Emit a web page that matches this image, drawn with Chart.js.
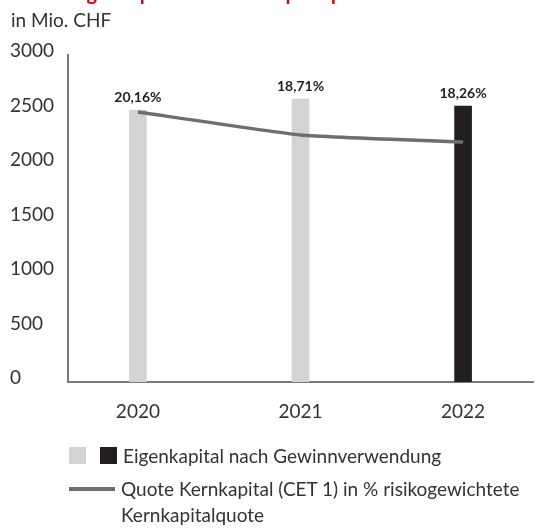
<!DOCTYPE html>
<html lang="de">
<head>
<meta charset="utf-8">
<title>Eigenkapital und Kernkapitalquote</title>
<script src="https://cdn.jsdelivr.net/npm/chart.js@4.4.0/dist/chart.umd.min.js"></script>
<style>
    html, body { margin: 0; padding: 0; background: #fff; }
    body { width: 550px; height: 528px; position: relative; overflow: hidden; font-family: Lato, sans-serif; color: #333; }
    #chartBox { position: absolute; left: 0; top: 0; width: 550px; height: 528px; }
    .txt { position: absolute; white-space: nowrap; font-size: 19px; line-height: 19px; }
    #title { left: 70px; top: -18px; color: #e2001a; font-weight: bold; font-size: 20px; line-height: 20px; }
    #unit { left: 11px; top: 10px; }
    .sq { position: absolute; width: 17px; height: 17px; }
    .ln { position: absolute; height: 4px; background: #6d6e70; }
</style>
</head>
<body>
<div id="chartBox"><canvas id="capitalChart"></canvas></div>
<div class="txt" id="title">Eigenkapital und Kernkapitalquote</div>
<div class="txt" id="unit">in Mio. CHF</div>

<!-- Legende -->
<div class="sq" style="left:69px; top:447px; background:#d1d3d4;"></div>
<div class="sq" style="left:100px; top:447px; background:#231f20;"></div>
<div class="txt" style="left:123px; top:446px;">Eigenkapital nach Gewinnverwendung</div>
<div class="ln" style="left:69px; top:487px; width:46px;"></div>
<div class="txt" style="left:121px; top:479px;">Quote Kernkapital (CET 1) in % risikogewichtete</div>
<div class="txt" style="left:121px; top:505px;">Kernkapitalquote</div>

<script>
const years = ['2020', '2021', '2022'];
const equity = [2495, 2596, 2532];          // Eigenkapital in Mio. CHF
const cet1 = [20.16, 18.71, 18.26];          // Kernkapitalquote in %
const barColors = ['#d1d3d4', '#d1d3d4', '#231f20'];

// Prozentwerte über den Balken
const pctLabels = {
    id: 'pctLabels',
    afterDatasetsDraw(chart) {
        const meta = chart.getDatasetMeta(1);
        const ctx = chart.ctx;
        ctx.save();
        ctx.font = 'bold 14px Lato, sans-serif';
        ctx.fillStyle = '#231f20';
        ctx.textAlign = 'center';
        ctx.textBaseline = 'middle';
        meta.data.forEach((bar, i) => {
            const text = cet1[i].toFixed(2).replace('.', ',') + '%';
            ctx.fillText(text, bar.x, bar.y - 13);
        });
        ctx.restore();
    }
};

const ctx = document.getElementById('capitalChart').getContext('2d');
new Chart(ctx, {
    data: {
        datasets: [{
            type: 'line',
            label: 'Quote Kernkapital (CET 1) in % risikogewichtete Kernkapitalquote',
            data: years.map((y, i) => ({ x: i, y: cet1[i] })),
            yAxisID: 'y2',
            borderColor: '#6d6e70',
            borderWidth: 3.5,
            pointRadius: 0,
            tension: 0.15,
            order: 0
        }, {
            type: 'bar',
            label: 'Eigenkapital nach Gewinnverwendung',
            data: years.map((y, i) => ({ x: i, y: equity[i] })),
            yAxisID: 'y',
            backgroundColor: barColors,
            barThickness: 17,
            order: 1
        }]
    },
    options: {
        responsive: true,
        maintainAspectRatio: false,
        animation: false,
        layout: {
            padding: { left: 10, right: 17, top: 55, bottom: 96 }
        },
        scales: {
            x: {
                type: 'linear',
                min: -0.43,
                max: 2.43,
                offset: false,
                afterBuildTicks: (scale) => {
                    scale.ticks = years.map((y, i) => ({ value: i }));
                },
                afterFit: (scale) => { scale.height = 50; },
                grid: { display: false, offset: false },
                border: { display: true, color: '#7a7a7a', width: 2 },
                ticks: {
                    padding: 10,
                    color: '#333',
                    font: { family: 'Lato', size: 19 },
                    callback: (value) => years[value]
                }
            },
            y: {
                min: 0,
                max: 3000,
                afterFit: (scale) => { scale.width = 58; },
                grid: { display: false },
                border: { display: true, color: '#7a7a7a', width: 2 },
                ticks: {
                    stepSize: 500,
                    crossAlign: 'far',
                    labelOffset: -4,
                    color: '#333',
                    font: { family: 'Lato', size: 19 },
                    callback: (value) => String(value)
                }
            },
            y2: {
                display: false,
                min: 3.03,
                max: 23.78
            }
        },
        plugins: {
            legend: { display: false },
            tooltip: { enabled: false }
        }
    },
    plugins: [pctLabels]
});
</script>
</body>
</html>
